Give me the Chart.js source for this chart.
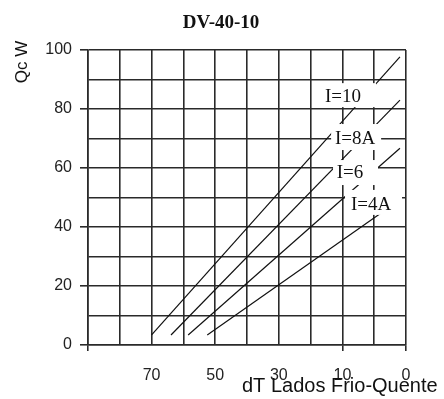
<!DOCTYPE html>
<html>
<head>
<meta charset="utf-8">
<script src="https://cdn.jsdelivr.net/npm/chart.js@4.4.1/dist/chart.umd.min.js"></script>
<style>
html,body{margin:0;padding:0;background:#fff;}
#wrap{width:444px;height:399px;position:relative;}
</style>
</head>
<body>
<div id="wrap"><canvas id="c"></canvas></div>
<script>
// ---- data ----
const chartTitle = 'DV-40-10';
const yTitle = 'Qc W';
const xTitle = 'dT Lados Frio-Quente';
const xTickValues = [100, 90, 80, 70, 60, 50, 40, 30, 20, 10, 0];
const xTickText   = ['', '', '70', '', '50', '', '30', '', '10', '', '0'];
const xTickMarks  = [100, 20, 0];
const yTickValues = [0, 10, 20, 30, 40, 50, 60, 70, 80, 90, 100];
const yTickText   = ['0', '', '20', '', '40', '', '60', '', '80', '', '100'];

const seriesNames = ['I=10', 'I=8A', 'I=6', 'I=4A'];
const i10X = [80, 1.9],   i10Y = [3.4, 97.7];
const i8X  = [73.9, 1.9], i8Y  = [3.4, 83.0];
const i6X  = [68.5, 1.9], i6Y  = [3.4, 66.7];
const i4X  = [62.5, 1.9], i4Y  = [3.4, 49.2];
const labelX = [19.8, 16.0, 17.6, 11.0];
const labelY = [84.7, 70.5, 58.8, 48.0];

const toPts = (xs, ys) => xs.map((x, i) => ({x: x, y: ys[i]}));
const seriesPts = [toPts(i10X, i10Y), toPts(i8X, i8Y), toPts(i6X, i6Y), toPts(i4X, i4Y)];

// box extents around label text centre (px): left, right, up, down
const boxPad = [[21, 33, 12, 12], [24, 26, 13, 13], [17, 28, 11.5, 13.5], [26, 31, 13.5, 11.5]];

const GRID = '#2a2a2a';
const SANS = '"Liberation Sans", Arial, sans-serif';
const SERIF = '"Liberation Serif", "Times New Roman", serif';

const textPlugin = {
  id: 'texts',
  afterDatasetsDraw(chart) {
    const ctx = chart.ctx;
    const xs = chart.scales.x, ys = chart.scales.y;
    ctx.save();
    ctx.font = '19px ' + SERIF;
    ctx.textAlign = 'center';
    ctx.textBaseline = 'alphabetic';
    seriesNames.forEach((name, i) => {
      const cx = xs.getPixelForValue(labelX[i]);
      const cy = ys.getPixelForValue(labelY[i]);
      const p = boxPad[i];
      ctx.fillStyle = '#fff';
      ctx.fillRect(cx - p[0], cy - p[2], p[0] + p[1], p[2] + p[3]);
      ctx.fillStyle = '#111';
      ctx.fillText(name, cx, cy + 6.5);
    });
    ctx.restore();
  },
  afterDraw(chart) {
    const ctx = chart.ctx;
    ctx.save();
    ctx.fillStyle = '#111';
    ctx.font = 'bold 19px ' + SERIF;
    ctx.textAlign = 'center';
    ctx.textBaseline = 'alphabetic';
    ctx.fillText(chartTitle, 221, 28);
    ctx.font = '20px ' + SANS;
    ctx.textAlign = 'left';
    ctx.fillText(xTitle, 242, 392);
    ctx.translate(27, 62);
    ctx.rotate(-Math.PI / 2);
    ctx.font = '17px ' + SANS;
    ctx.textAlign = 'center';
    ctx.fillText(yTitle, 0, 0);
    ctx.restore();
  }
};

new Chart(document.getElementById('c'), {
  type: 'line',
  data: {
    datasets: seriesNames.map((n, i) => ({
      label: n,
      data: seriesPts[i],
      borderColor: '#111',
      borderWidth: 1.2,
      pointRadius: 0,
      fill: false,
      tension: 0
    }))
  },
  options: {
    responsive: true,
    maintainAspectRatio: false,
    animation: false,
    layout: {padding: {top: 50, right: 38, bottom: 0, left: 0}},
    plugins: {legend: {display: false}, tooltip: {enabled: false}, title: {display: false}},
    scales: {
      x: {
        type: 'linear',
        reverse: true,
        min: 0, max: 100,
        afterBuildTicks(s) { s.ticks = xTickValues.map(v => ({value: v})); },
        afterFit(s) { s.height = 54; },
        ticks: {
          autoSkip: false,
          maxRotation: 0,
          padding: 15,
          color: '#222',
          font: {family: SANS, size: 16},
          callback(v) { const i = xTickValues.indexOf(v); return i >= 0 ? xTickText[i] : ''; }
        },
        grid: {
          color: GRID,
          lineWidth: 1.6,
          tickLength: 6,
          tickColor(c) { return (c.tick && xTickMarks.includes(c.tick.value)) ? GRID : 'rgba(0,0,0,0)'; }
        },
        border: {color: GRID, width: 1.6}
      },
      y: {
        type: 'linear',
        min: 0, max: 100,
        afterBuildTicks(s) { s.ticks = yTickValues.map(v => ({value: v})); },
        afterFit(s) { s.width = 88; },
        ticks: {
          autoSkip: false,
          padding: 8,
          color: '#222',
          font: {family: SANS, size: 16},
          callback(v) { const i = yTickValues.indexOf(v); return i >= 0 ? yTickText[i] : ''; }
        },
        grid: {
          color: GRID,
          lineWidth: 1.6,
          tickLength: 8,
          tickColor(c) { return (c.tick && c.tick.value % 20 === 0) ? GRID : 'rgba(0,0,0,0)'; }
        },
        border: {color: GRID, width: 1.6}
      }
    }
  },
  plugins: [textPlugin]
});
</script>
</body>
</html>
